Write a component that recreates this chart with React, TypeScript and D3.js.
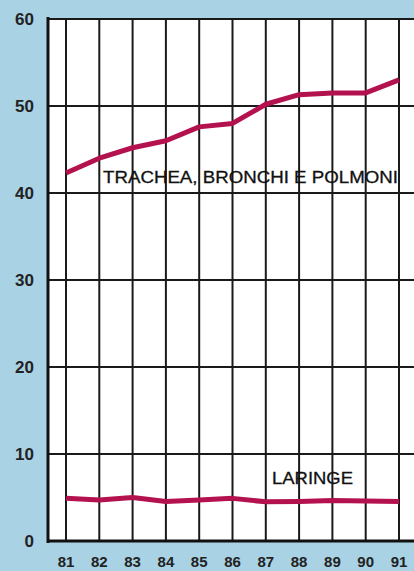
import React from "react";
import * as d3 from "d3";

const years = ["81", "82", "83", "84", "85", "86", "87", "88", "89", "90", "91"];
const trachea = [42.3, 44.0, 45.2, 46.0, 47.6, 48.0, 50.2, 51.3, 51.5, 51.5, 53.0];
const laringe = [4.9, 4.7, 5.0, 4.55, 4.7, 4.9, 4.5, 4.55, 4.65, 4.6, 4.55];
const yTicks = [0, 10, 20, 30, 40, 50, 60];

const W = 414;
const H = 571;

export default function App() {
  const x = d3.scalePoint<string>().domain(years).range([66, 399]);
  const y = d3.scaleLinear().domain([0, 60]).range([541, 19]);
  const line = d3
    .line<number>()
    .x((_, i) => x(years[i]) as number)
    .y((d) => y(d));
  const red = "#b3124f";
  return (
    <svg
      width={W}
      height={H}
      style={{ position: "absolute", left: 0, top: 0, display: "block" }}
      fontFamily="'Liberation Sans', Arial, sans-serif"
    >
      <rect x={0} y={0} width={W} height={H} fill="#a9d2e5" />
      <rect x={48} y={18} width={W - 48} height={541 - 18} fill="#ffffff" />
      {yTicks.map((t) => (
        <line key={"h" + t} x1={48} x2={W} y1={y(t)} y2={y(t)} stroke="#1a1a1a" strokeWidth={2} />
      ))}
      {years.map((yr) => (
        <line key={"v" + yr} x1={x(yr)} x2={x(yr)} y1={18} y2={541} stroke="#1a1a1a" strokeWidth={2} />
      ))}
      <line x1={48} x2={48} y1={17} y2={543} stroke="#111" strokeWidth={3} />
      <line x1={47} x2={W} y1={y(0)} y2={y(0)} stroke="#111" strokeWidth={3} />
      <path d={line(trachea) || ""} fill="none" stroke={red} strokeWidth={5} strokeLinejoin="round" />
      <path d={line(laringe) || ""} fill="none" stroke={red} strokeWidth={5} strokeLinejoin="round" />
      <text x={103} y={183} fontSize={17} textLength={295} lengthAdjust="spacingAndGlyphs" fill="#111" stroke="#111" strokeWidth={0.3}>
        TRACHEA, BRONCHI E POLMONI
      </text>
      <text x={272} y={484} fontSize={17} textLength={81} lengthAdjust="spacingAndGlyphs" fill="#111" stroke="#111" strokeWidth={0.3}>
        LARINGE
      </text>
      {yTicks.map((t) => (
        <text
          key={"yl" + t}
          x={34}
          y={y(t) + 6}
          fontSize={17}
          fontWeight="bold"
          textAnchor="end"
          fill="#222"
        >
          {t}
        </text>
      ))}
      {years.map((yr) => (
        <text
          key={"xl" + yr}
          x={x(yr)}
          y={567}
          fontSize={15}
          fontWeight="bold"
          textAnchor="middle"
          fill="#222"
        >
          {yr}
        </text>
      ))}
    </svg>
  );
}
